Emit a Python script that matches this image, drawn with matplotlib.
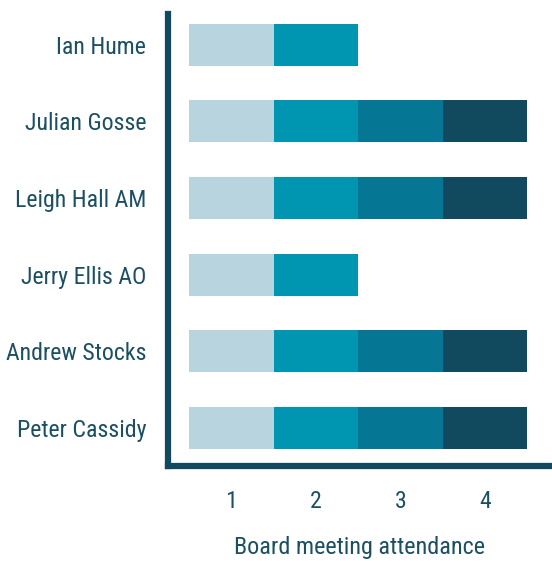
import matplotlib.pyplot as plt
import numpy as np
from matplotlib import font_manager

# 数据
directors = ['Ian Hume', 'Julian Gosse', 'Leigh Hall AM', 'Jerry Ellis AO',
             'Andrew Stocks', 'Peter Cassidy']
attended = [2, 4, 4, 2, 4, 4]
meetings = [1, 2, 3, 4]
colors = ['#b8d5df', '#0095b0', '#057694', '#114a5f']

# 字体：尽量用窄体
names = {f.name for f in font_manager.fontManager.ttflist}
fam = [n for n in ['Roboto Condensed', 'Liberation Sans Narrow', 'DejaVu Sans Condensed']
       if n in names] + ['DejaVu Sans']
plt.rcParams['font.family'] = fam
text_color = '#1b4f63'
spine_color = '#114a5f'

fig = plt.figure(figsize=(5.52, 5.61), dpi=100)
ax = fig.add_axes([0.304, 0.169, 0.696, 0.806])

y = np.arange(len(directors))
att = np.array(attended)
for k, c in zip(meetings, colors):
    mask = att >= k
    ax.barh(y[mask], 1, left=k - 0.5, height=0.55, color=c, linewidth=0)

ax.set_xlim(0.25, 4.79)
ax.set_ylim(5.5, -0.4)
ax.set_yticks(y)
ax.set_yticklabels(directors, va='center_baseline')
ax.set_xticks(meetings)
ax.tick_params(length=0, labelsize=17.2, colors=text_color)
ax.tick_params(axis='y', pad=15.5)
ax.tick_params(axis='x', pad=17)
for s in ['top', 'right']:
    ax.spines[s].set_visible(False)
for s in ['left', 'bottom']:
    ax.spines[s].set_linewidth(4.5)
    ax.spines[s].set_color(spine_color)
ax.set_xlabel('Board meeting attendance', fontsize=17.4, color=text_color, labelpad=17)

fig.savefig('out.png', dpi=100)
